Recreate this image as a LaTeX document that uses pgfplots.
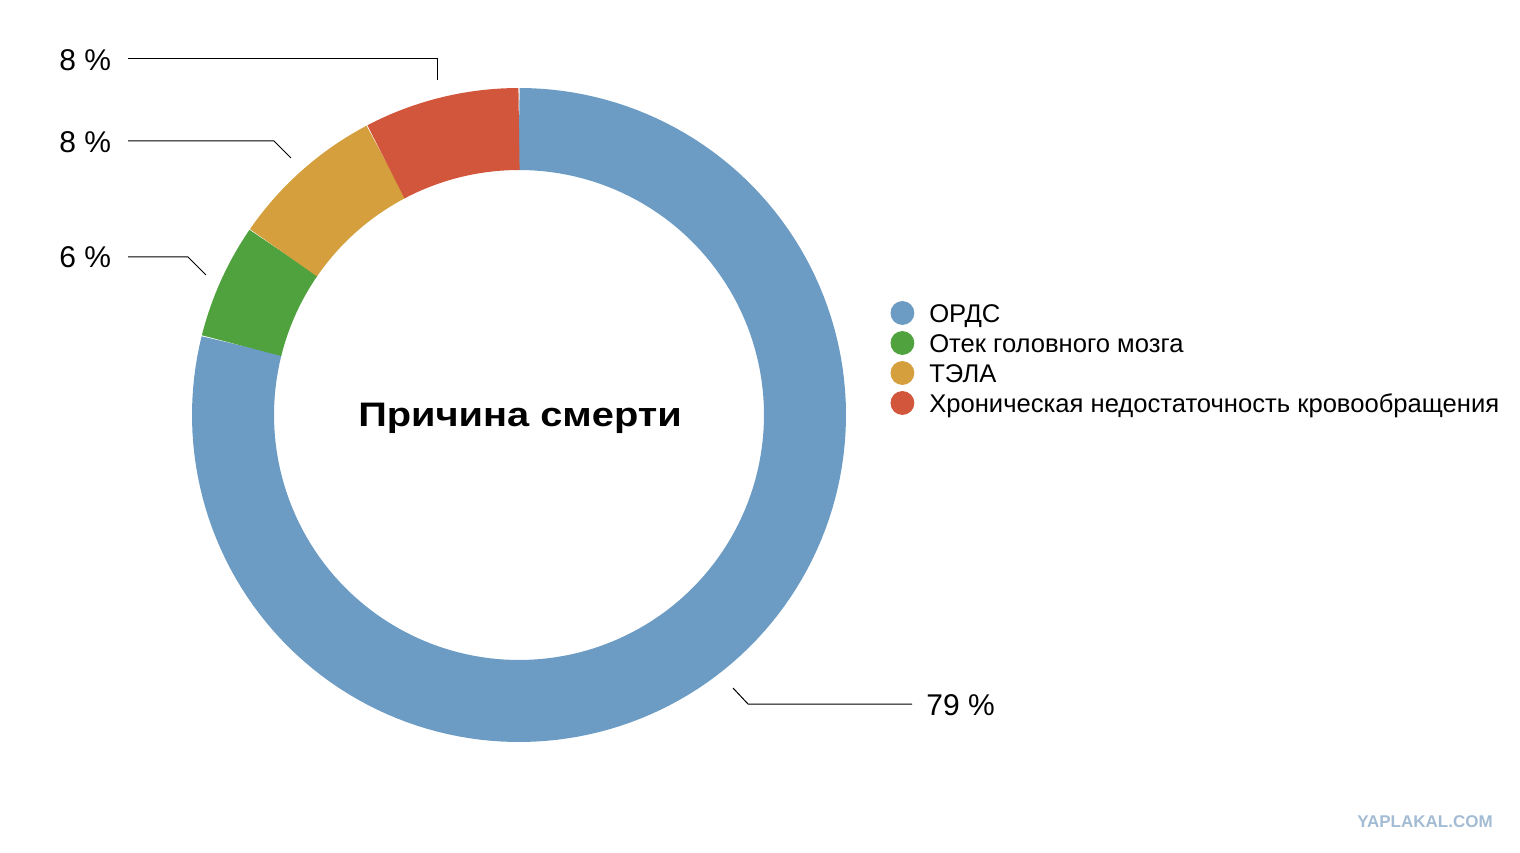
\documentclass[border=0pt]{standalone}
\usepackage{fontspec}
\setmainfont{Liberation Sans}
\newfontfamily\titlefont[FakeStretch=1.17]{Liberation Sans Bold}
\usepackage{pgfplots}
\pgfplotsset{compat=1.18}
\definecolor{cBlue}{HTML}{6C9CC4}
\definecolor{cGreen}{HTML}{4FA23E}
\definecolor{cYellow}{HTML}{D49F3C}
\definecolor{cRed}{HTML}{D2563C}
\definecolor{wm}{HTML}{A3BCD4}
% shares of the causes of death (percent)
\def\vOrds{78.9}
\def\vOtek{5.7}
\def\vTela{7.7}
\def\vHron{7.7}
\pgfmathsetmacro\aA{90}
\pgfmathsetmacro\aB{\aA-3.6*\vOrds}
\pgfmathsetmacro\aC{\aB-3.6*\vOtek}
\pgfmathsetmacro\aD{\aC-3.6*\vTela}
\pgfmathsetmacro\aE{\aD-3.6*\vHron}
\begin{document}
\begin{tikzpicture}
\begin{axis}[x=0.5pt,y=0.5pt,
  xmin=-519,xmax=1001,ymin=-437,ymax=415,
  hide axis, clip=false,
  legend cell align=left,
  legend style={at={(axis cs:371.5,57)}, anchor=west, draw=none, fill=none,
    inner sep=0pt, outer sep=0pt, font=\fontsize{12.8}{15}\selectfont, row sep=0pt,
    nodes={inner sep=0pt, text height=12.1pt, text depth=2.9pt},
    /tikz/every odd column/.append style={column sep=7.5pt}},
]
\path (axis cs:-519,-437) rectangle (axis cs:1001,415);
\addlegendimage{legend image code/.code={\fill[cBlue] (0pt,0pt) circle (5.75pt);}}
\addlegendimage{legend image code/.code={\fill[cGreen] (0pt,0pt) circle (5.75pt);}}
\addlegendimage{legend image code/.code={\fill[cYellow] (0pt,0pt) circle (5.75pt);}}
\addlegendimage{legend image code/.code={\fill[cRed] (0pt,0pt) circle (5.75pt);}}
\addplot[forget plot, data cs=polar, domain=\aB:\aA, samples=150, cBlue, line width=41pt] {286};
\addplot[forget plot, data cs=polar, domain=\aC:\aB, samples=20, cGreen, line width=41pt] {286};
\addplot[forget plot, data cs=polar, domain=\aD:\aC, samples=20, cYellow, line width=41pt] {286};
\addplot[forget plot, data cs=polar, domain=\aE:\aD, samples=20, cRed, line width=41pt] {286};
% leader lines
\addplot[forget plot, black, line width=0.5pt] coordinates {(-391,356) (-82,356) (-82,335)};
\addplot[forget plot, black, line width=0.5pt] coordinates {(-391,274) (-245,274) (-228,257)};
\addplot[forget plot, black, line width=0.5pt] coordinates {(-391,158) (-331,158) (-313,140)};
\addplot[forget plot, black, line width=0.5pt] coordinates {(214,-273) (229,-289) (393,-289)};
\node[anchor=west, inner sep=0pt, font=\fontsize{15}{18}\selectfont] at (axis cs:-460,355) {8 \%};
\node[anchor=west, inner sep=0pt, font=\fontsize{15}{18}\selectfont] at (axis cs:-460,273) {8 \%};
\node[anchor=west, inner sep=0pt, font=\fontsize{15}{18}\selectfont] at (axis cs:-460,158) {6 \%};
\node[anchor=west, inner sep=0pt, font=\fontsize{15}{18}\selectfont] at (axis cs:407,-290) {79 \%};
\node[anchor=base, inner sep=0pt, font=\titlefont\fontsize{17}{20}\selectfont] at (axis cs:1,-12) {Причина смерти};
\node[inner sep=0pt, text=wm, font=\bfseries\fontsize{8.5}{10}\selectfont] at (axis cs:906,-407) {YAPLAKAL.COM};
\legend{ОРДС, Отек головного мозга, ТЭЛА, Хроническая недостаточность кровообращения}
\end{axis}
\end{tikzpicture}
\end{document}
